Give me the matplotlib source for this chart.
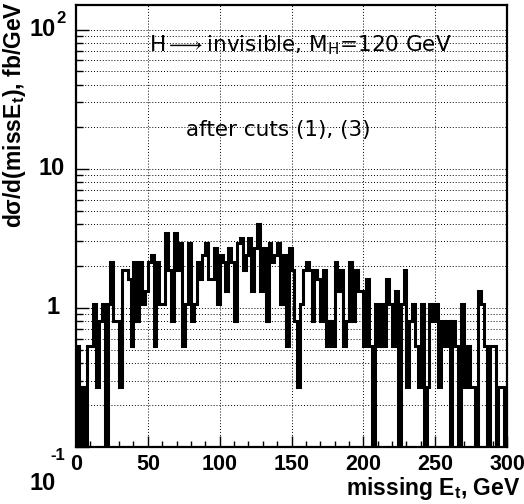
import numpy as np
import matplotlib
matplotlib.use("Agg")
import matplotlib.pyplot as plt
from matplotlib.ticker import LogLocator, NullFormatter, MultipleLocator, FixedLocator
import matplotlib.transforms as mtrans

# ---- data ----
x_min, x_max = 0, 300
n_bins = 150
dsigma = [
    0.53, 0, 0.27, 0, 0.53, 0.53, 1.07, 0.27, 0.8, 1.07, 0, 1.07, 2.13, 0.8, 0.8,
    0.27, 1.87, 1.87, 1.6, 0.53, 2.13, 0.8, 2.13, 1.07, 1.33, 2.13, 2.4, 0.53, 2.13, 1.07,
    1.07, 3.47, 1.87, 0.8, 3.47, 1.87, 2.93, 0.53, 1.07, 2.93, 0.8, 1.07, 2.13, 1.6, 2.4,
    2.93, 1.6, 1.6, 2.67, 1.07, 2.4, 2.13, 1.33, 2.67, 2.13, 0.8, 2.93, 3.2, 1.87, 2.4,
    3.2, 1.33, 2.67, 4.0, 1.33, 2.67, 0.8, 2.93, 2.13, 2.4, 2.93, 1.07, 2.4, 0.53, 2.67,
    1.87, 0.8, 0.27, 1.07, 1.87, 2.13, 1.87, 0.8, 1.87, 1.6, 0.8, 1.87, 0.53, 0.8, 0.53,
    2.13, 1.33, 1.87, 0.53, 0.8, 2.13, 0.8, 1.87, 1.33, 1.33, 0.53, 1.6, 0.53, 0, 1.07,
    0.53, 1.07, 0.53, 1.6, 1.07, 0.53, 1.33, 0, 1.07, 1.87, 0.27, 0.8, 1.07, 0.53, 0.27,
    1.07, 0, 0.27, 1.07, 0.8, 1.07, 0.27, 0.8, 0.53, 0.8, 0, 0.8, 0.53, 0, 1.07,
    0.27, 0.53, 0.27, 0.27, 0, 1.33, 1.07, 0.53, 0, 0.53, 0.53, 0, 0.27, 0.27, 0,
]
x_ticks = [0, 50, 100, 150, 200, 250, 300]
x_ticklabels = ["0", "50", "100", "150", "200", "250", "300"]
y_min, y_max = 0.1, 150
title1 = r"H$\longrightarrow$invisible, M$_{\mathregular{H}}$=120 GeV"
title2 = "after cuts (1), (3)"
xlabel = r"missing E$_{\mathregular{t}}$, GeV"
ylabel = r"d$\sigma$/d(missE$_{\mathregular{t}}$), fb/GeV"

plt.rcParams['mathtext.fontset'] = 'custom'
plt.rcParams['mathtext.rm'] = 'Liberation Sans:bold'
plt.rcParams['mathtext.it'] = 'Liberation Sans:bold'
plt.rcParams['mathtext.bf'] = 'Liberation Sans:bold'

fig = plt.figure(figsize=(5.24, 5.04), dpi=100)
ax = fig.add_axes([76/524, 57/504, 431/524, 442/504])

edges = np.linspace(x_min, x_max, n_bins + 1)
ax.stairs(np.array(dsigma, dtype=float), edges, color="black", linewidth=2.2, baseline=0)

ax.set_yscale("log", nonpositive="clip")
ax.set_xlim(x_min, x_max)
ax.set_ylim(y_min, y_max)

# grid
ax.xaxis.set_major_locator(FixedLocator(x_ticks))
ax.xaxis.set_minor_locator(MultipleLocator(10))
ax.yaxis.set_major_locator(LogLocator(base=10, numticks=10))
ax.yaxis.set_minor_locator(LogLocator(base=10, subs=np.arange(2, 10), numticks=20))
ax.yaxis.set_major_formatter(NullFormatter())
ax.yaxis.set_minor_formatter(NullFormatter())
ax.grid(True, which="major", axis="x", color="black", linestyle=(0, (1, 2)), linewidth=0.7)
ax.grid(True, which="both", axis="y", color="black", linestyle=(0, (1, 2)), linewidth=0.7)
ax.set_axisbelow(True)

ax.set_xticklabels(x_ticklabels, fontfamily="Liberation Sans", fontweight="bold", fontsize=15.5)
ax.tick_params(axis="x", which="major", direction="in", length=8, width=1, pad=5)
ax.tick_params(axis="x", which="minor", direction="in", length=4, width=1)
ax.tick_params(axis="y", which="major", direction="in", length=9, width=1)
ax.tick_params(axis="y", which="minor", direction="in", length=5, width=1)

for s in ax.spines.values():
    s.set_linewidth(1.6)

# y tick labels (ROOT style)
tr = mtrans.blended_transform_factory(ax.transAxes, ax.transData)
fkw = dict(fontfamily="Liberation Sans", fontweight="bold", fontsize=17, transform=tr)
off = mtrans.ScaledTranslation
ax.text(-0.025, 100, "10", ha="right", va="center",
        **{**fkw, "transform": tr + off(-9/100, 0, fig.dpi_scale_trans)})
ax.text(-0.025, 100, "2", ha="right", va="center",
        **{**fkw, "fontsize": 12, "transform": tr + off(0, 11/100, fig.dpi_scale_trans)})
ax.text(-0.025, 10, "10", ha="right", va="center", **fkw)
ax.text(-0.025, 1, "1", ha="right", va="center",
        **{**fkw, "transform": tr + off(-6/100, 0, fig.dpi_scale_trans)})
ax.text(-0.025, 0.1, "10", ha="right", va="center",
        **{**fkw, "transform": tr + off(-9/100, -36/100, fig.dpi_scale_trans)})
ax.text(-0.025, 0.1, "-1", ha="right", va="center",
        **{**fkw, "fontsize": 12, "transform": tr + off(0, -8/100, fig.dpi_scale_trans)})

# axis titles
fig.text(15/524, 1 - 1/504, ylabel, rotation=90, ha="center", va="top",
         fontfamily="Liberation Sans", fontweight="bold", fontsize=16.5)
fig.text(1 - 3/524, 1 - 488/504, xlabel, ha="right", va="center",
         fontfamily="Liberation Sans", fontweight="bold", fontsize=16.5)

# annotations
ax.text(0.52, 0.909, title1, transform=ax.transAxes, ha="center", va="center",
        fontsize=15.5, fontfamily="DejaVu Sans")
ax.text(0.469, 0.717, title2, transform=ax.transAxes, ha="center", va="center",
        fontsize=15.5, fontfamily="DejaVu Sans")

fig.savefig("out.png", dpi=100, facecolor="white")
